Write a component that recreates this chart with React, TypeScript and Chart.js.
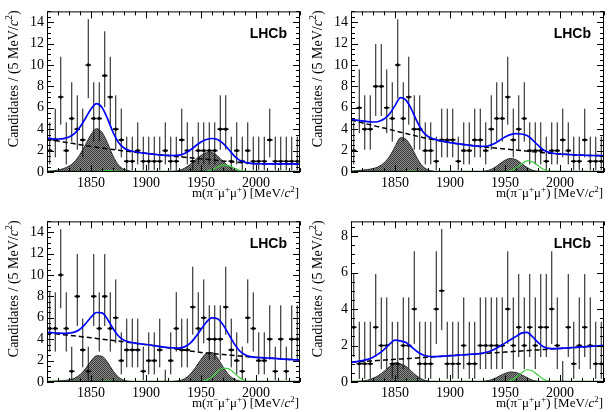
import React, { useEffect, useRef } from "react";
import { Chart, registerables } from "chart.js";

Chart.register(...registerables);

// ---------- axis / binning ----------
const X_MIN = 1810;
const X_MAX = 2040;
const BIN_WIDTH = 5;
const X_TICKS = [1850, 1900, 1950, 2000];
const Y_TICKS_TALL = [0, 2, 4, 6, 8, 10, 12, 14];
const Y_TICKS_SHORT = [0, 2, 4, 6, 8];
const Y_MAX_TALL = 15;
const Y_MAX_SHORT = 8.8;

const BIN_CENTERS = [
  1812.5, 1817.5, 1822.5, 1827.5, 1832.5, 1837.5, 1842.5, 1847.5, 1852.5, 1857.5,
  1862.5, 1867.5, 1872.5, 1877.5, 1882.5, 1887.5, 1892.5, 1897.5, 1902.5, 1907.5,
  1912.5, 1917.5, 1922.5, 1927.5, 1932.5, 1937.5, 1942.5, 1947.5, 1952.5, 1957.5,
  1962.5, 1967.5, 1972.5, 1977.5, 1982.5, 1987.5, 1992.5, 1997.5, 2002.5, 2007.5,
  2012.5, 2017.5, 2022.5, 2027.5, 2032.5, 2037.5,
];

// sample points of the fitted curves (MeV/c^2)
const FIT_MASS = [
  1810, 1815, 1820, 1825, 1830, 1835, 1840, 1845, 1850, 1855,
  1860, 1865, 1870, 1875, 1880, 1885, 1890, 1895, 1900, 1905,
  1910, 1915, 1920, 1925, 1930, 1935, 1940, 1945, 1950, 1955,
  1960, 1965, 1970, 1975, 1980, 1985, 1990, 1995, 2000, 2005,
  2010, 2015, 2020, 2025, 2030, 2035, 2040,
];

// zero-valued component drawn along the bottom
const FLAT_MASS = [1810, 2040];
const FLAT_COMPONENT = [0, 0];

// Poisson (Garwood) intervals indexed by count
const POISSON_LOW = [0, 0.173, 0.708, 1.367, 2.086, 2.84, 3.62, 4.419, 5.232, 6.057, 6.891, 7.738];
const POISSON_HIGH = [1.148, 3.3, 4.638, 5.918, 7.163, 8.382, 9.584, 10.77, 11.95, 13.14, 14.27, 15.41];

// ---------- panel 1 (top left) ----------
const P1_COUNTS = [2, 3, 7, 2, 5, 4, 3, 10, 5, 5, 9, 7, 4, 3, 1, 1, 2, 1, 1, 1, 1, 2, 1, 1, 3, 2, 1, 2, 2, 2, 2, 4, 4, 1, 2, 1, 2, 1, 1, 1, 3, 1, 1, 1, 1, 1];
const P1_TOTAL = [3.16, 3.1, 3.08, 3.12, 3.27, 3.58, 4.2, 5.02, 5.89, 6.38, 6.02, 4.99, 3.72, 2.75, 2.24, 2.01, 1.89, 1.8, 1.74, 1.68, 1.63, 1.58, 1.55, 1.54, 1.58, 1.73, 2.03, 2.43, 2.8, 3.04, 3.13, 3.03, 2.68, 2.13, 1.53, 1.11, 0.91, 0.81, 0.78, 0.77, 0.76, 0.76, 0.75, 0.75, 0.75, 0.75, 0.75];
const P1_BKG = [3.1, 3.0, 2.9, 2.8, 2.72, 2.63, 2.55, 2.47, 2.39, 2.31, 2.24, 2.17, 2.1, 2.03, 1.97, 1.91, 1.85, 1.79, 1.74, 1.68, 1.63, 1.58, 1.53, 1.48, 1.43, 1.38, 1.33, 1.28, 1.23, 1.18, 1.13, 1.08, 1.03, 0.98, 0.93, 0.89, 0.85, 0.81, 0.78, 0.77, 0.76, 0.76, 0.75, 0.75, 0.75, 0.75, 0.75];
const P1_MISID = [0.06, 0.1, 0.18, 0.32, 0.55, 0.95, 1.65, 2.55, 3.5, 4.05, 3.7, 2.7, 1.5, 0.65, 0.25, 0.1, 0.04, 0.01, 0, 0, 0, 0, 0.02, 0.06, 0.15, 0.35, 0.7, 1.15, 1.55, 1.8, 1.8, 1.5, 1.0, 0.55, 0.22, 0.07, 0.02, 0, 0, 0, 0, 0, 0, 0, 0, 0, 0];
const P1_GREEN = [0, 0, 0, 0, 0, 0, 0, 0, 0, 0.02, 0.08, 0.12, 0.12, 0.07, 0.02, 0, 0, 0, 0, 0, 0, 0, 0, 0, 0, 0, 0, 0, 0.02, 0.06, 0.2, 0.45, 0.65, 0.6, 0.38, 0.15, 0.04, 0, 0, 0, 0, 0, 0, 0, 0, 0, 0];

// ---------- panel 2 (top right) ----------
const P2_COUNTS = [2, 6, 4, 4, 8, 8, 6, 5, 10, 5, 7, 4, 4, 2, 2, 1, 3, 3, 3, 1, 2, 2, 3, 3, 2, 4, 5, 5, 7, 3, 4, 5, 2, 2, 2, 1, 2, 2, 3, 2, 1, 1, 3, 1, 1, 1];
const P2_TOTAL = [4.94, 4.84, 4.77, 4.7, 4.67, 4.72, 4.95, 5.42, 6.2, 6.94, 6.71, 5.85, 4.72, 3.81, 3.32, 3.09, 2.94, 2.83, 2.75, 2.67, 2.6, 2.53, 2.47, 2.43, 2.4, 2.45, 2.63, 2.95, 3.28, 3.49, 3.58, 3.55, 3.4, 3.01, 2.5, 2.06, 1.83, 1.73, 1.68, 1.65, 1.62, 1.59, 1.57, 1.55, 1.54, 1.53, 1.52];
const P2_BKG = [4.85, 4.72, 4.6, 4.47, 4.35, 4.22, 4.1, 3.97, 3.85, 3.72, 3.6, 3.47, 3.35, 3.23, 3.12, 3.02, 2.92, 2.83, 2.75, 2.67, 2.6, 2.53, 2.47, 2.41, 2.35, 2.3, 2.25, 2.2, 2.15, 2.1, 2.05, 2.0, 1.95, 1.9, 1.85, 1.8, 1.76, 1.72, 1.68, 1.65, 1.62, 1.59, 1.57, 1.55, 1.54, 1.53, 1.52];
const P2_MISID = [0.09, 0.12, 0.17, 0.23, 0.32, 0.5, 0.85, 1.45, 2.35, 3.2, 3.05, 2.3, 1.3, 0.55, 0.2, 0.07, 0.02, 0, 0, 0, 0, 0, 0, 0.02, 0.05, 0.15, 0.38, 0.75, 1.1, 1.27, 1.15, 0.8, 0.42, 0.16, 0.05, 0.01, 0, 0, 0, 0, 0, 0, 0, 0, 0, 0, 0];
const P2_GREEN = [0, 0, 0, 0, 0, 0, 0, 0, 0, 0.02, 0.06, 0.08, 0.07, 0.03, 0, 0, 0, 0, 0, 0, 0, 0, 0, 0, 0, 0, 0, 0, 0.03, 0.12, 0.38, 0.75, 1.03, 0.95, 0.6, 0.25, 0.07, 0.01, 0, 0, 0, 0, 0, 0, 0, 0, 0];

// ---------- panel 3 (bottom left) ----------
const P3_COUNTS = [5, 5, 10, 5, 1, 8, 3, 1, 8, 5, 8, 5, 6, 2, 3, 3, 3, 1, 2, 2, 3, 0, 2, 5, 3, 3, 7, 5, 6, 4, 4, 4, 7, 3, 2, 1, 6, 5, 2, 2, 4, 1, 4, 1, 4, 4];
const P3_TOTAL = [4.64, 4.6, 4.57, 4.55, 4.57, 4.66, 4.93, 5.44, 6.05, 6.49, 6.45, 5.87, 5.0, 4.3, 3.91, 3.74, 3.64, 3.56, 3.5, 3.43, 3.35, 3.28, 3.22, 3.18, 3.17, 3.28, 3.6, 4.2, 4.91, 5.6, 5.98, 5.9, 5.35, 4.5, 3.61, 2.92, 2.54, 2.37, 2.3, 2.27, 2.24, 2.21, 2.18, 2.14, 2.11, 2.08, 2.05];
const P3_BKG = [4.6, 4.54, 4.48, 4.42, 4.37, 4.31, 4.25, 4.19, 4.13, 4.07, 4.01, 3.94, 3.88, 3.82, 3.75, 3.69, 3.63, 3.56, 3.5, 3.43, 3.35, 3.28, 3.2, 3.13, 3.05, 2.98, 2.9, 2.83, 2.75, 2.7, 2.66, 2.61, 2.57, 2.52, 2.48, 2.43, 2.39, 2.34, 2.3, 2.27, 2.24, 2.21, 2.18, 2.14, 2.11, 2.08, 2.05];
const P3_MISID = [0.04, 0.06, 0.09, 0.13, 0.2, 0.35, 0.68, 1.25, 1.95, 2.45, 2.4, 1.85, 1.05, 0.45, 0.16, 0.05, 0.01, 0, 0, 0, 0, 0, 0.02, 0.05, 0.12, 0.3, 0.7, 1.35, 2.1, 2.68, 2.75, 2.25, 1.42, 0.7, 0.28, 0.09, 0.02, 0, 0, 0, 0, 0, 0, 0, 0, 0, 0];
const P3_GREEN = [0, 0, 0, 0, 0, 0, 0, 0, 0, 0.02, 0.06, 0.08, 0.07, 0.03, 0, 0, 0, 0, 0, 0, 0, 0, 0, 0, 0, 0, 0, 0.02, 0.06, 0.18, 0.48, 0.95, 1.3, 1.25, 0.85, 0.4, 0.13, 0.03, 0, 0, 0, 0, 0, 0, 0, 0, 0];

// ---------- panel 4 (bottom right) ----------
const P4_COUNTS = [3, 1, 1, 1, 3, 2, 2, 1, 1, 2, 2, 4, 1, 1, 1, 4, 5, 1, 1, 1, 2, 1, 1, 2, 2, 2, 2, 2, 4, 2, 3, 2, 3, 2, 3, 3, 4, 2, 0, 3, 1, 2, 3, 2, 1, 1];
const P4_TOTAL = [1.08, 1.12, 1.17, 1.24, 1.36, 1.54, 1.78, 2.07, 2.29, 2.25, 2.16, 1.92, 1.67, 1.49, 1.41, 1.39, 1.4, 1.42, 1.44, 1.46, 1.48, 1.5, 1.52, 1.54, 1.59, 1.66, 1.78, 1.95, 2.13, 2.32, 2.5, 2.68, 2.72, 2.48, 2.17, 1.93, 1.84, 1.83, 1.84, 1.86, 1.88, 1.9, 1.92, 1.94, 1.96, 1.98, 2.0];
const P4_BKG = [1.08, 1.1, 1.12, 1.14, 1.16, 1.18, 1.2, 1.22, 1.24, 1.26, 1.28, 1.3, 1.32, 1.34, 1.36, 1.38, 1.4, 1.42, 1.44, 1.46, 1.48, 1.5, 1.52, 1.54, 1.56, 1.58, 1.6, 1.62, 1.64, 1.66, 1.68, 1.7, 1.72, 1.74, 1.76, 1.78, 1.8, 1.82, 1.84, 1.86, 1.88, 1.9, 1.92, 1.94, 1.96, 1.98, 2.0];
const P4_MISID = [0, 0.02, 0.05, 0.1, 0.2, 0.36, 0.58, 0.85, 1.05, 0.98, 0.85, 0.58, 0.32, 0.14, 0.05, 0.01, 0, 0, 0, 0, 0, 0, 0, 0, 0.03, 0.08, 0.18, 0.33, 0.47, 0.55, 0.52, 0.4, 0.24, 0.1, 0.03, 0, 0, 0, 0, 0, 0, 0, 0, 0, 0, 0, 0];
const P4_GREEN = [0, 0, 0, 0, 0, 0, 0, 0, 0, 0.01, 0.03, 0.04, 0.03, 0.01, 0, 0, 0, 0, 0, 0, 0, 0, 0, 0, 0, 0, 0, 0, 0.02, 0.08, 0.25, 0.5, 0.67, 0.6, 0.38, 0.15, 0.04, 0.01, 0, 0, 0, 0, 0, 0, 0, 0, 0];

// ---------- texts ----------
const EXPERIMENT_LABEL = "LHCb";
const X_TITLE_PARTS = [
  { t: "m(π" }, { t: "−", sup: true }, { t: "μ" }, { t: "+", sup: true }, { t: "μ" }, { t: "+", sup: true },
  { t: ") [MeV/" }, { t: "c", it: true }, { t: "2", sup: true }, { t: "]" },
];
const Y_TITLE_PARTS = [
  { t: "Candidates / (5 MeV/" }, { t: "c", it: true }, { t: "2", sup: true }, { t: ")" },
];

type Panel = {
  counts: number[]; total: number[]; bkg: number[]; misid: number[]; green: number[];
  yMax: number; yTicks: number[];
};

const PANELS: Panel[] = [
  { counts: P1_COUNTS, total: P1_TOTAL, bkg: P1_BKG, misid: P1_MISID, green: P1_GREEN, yMax: Y_MAX_TALL, yTicks: Y_TICKS_TALL },
  { counts: P2_COUNTS, total: P2_TOTAL, bkg: P2_BKG, misid: P2_MISID, green: P2_GREEN, yMax: Y_MAX_TALL, yTicks: Y_TICKS_TALL },
  { counts: P3_COUNTS, total: P3_TOTAL, bkg: P3_BKG, misid: P3_MISID, green: P3_GREEN, yMax: Y_MAX_TALL, yTicks: Y_TICKS_TALL },
  { counts: P4_COUNTS, total: P4_TOTAL, bkg: P4_BKG, misid: P4_MISID, green: P4_GREEN, yMax: Y_MAX_SHORT, yTicks: Y_TICKS_SHORT },
];

const SERIF = '"Liberation Serif", "Times New Roman", serif';
const FONT_SIZE = 14;
const X_TITLE_SIZE = 13;
const W = 304;
const H = 202;
const GRAY_INDEX = 5;

function drawRich(ctx: CanvasRenderingContext2D, parts: any[], size: number) {
  const fontOf = (p: any) => `${p.it ? "italic " : ""}${p.sup ? Math.round(size * 0.72) : size}px ${SERIF}`;
  let total = 0;
  const widths = parts.map((p) => {
    ctx.font = fontOf(p);
    const w = ctx.measureText(p.t).width;
    total += w;
    return w;
  });
  let x = -total;
  ctx.textAlign = "left";
  ctx.textBaseline = "alphabetic";
  parts.forEach((p, i) => {
    ctx.font = fontOf(p);
    ctx.fillText(p.t, x, p.sup ? -size * 0.4 : 0);
    x += widths[i];
  });
}

function makePattern(): any {
  const c = document.createElement("canvas");
  c.width = 2;
  c.height = 2;
  const g = c.getContext("2d")!;
  g.fillStyle = "#8c8c8c";
  g.fillRect(0, 0, 2, 2);
  g.fillStyle = "#3c3c3c";
  g.fillRect(0, 0, 1, 1);
  g.fillRect(1, 1, 1, 1);
  return g.createPattern(c, "repeat");
}

function PanelChart({ panel, left, top }: { panel: Panel; left: number; top: number }) {
  const ref = useRef<HTMLCanvasElement | null>(null);

  useEffect(() => {
    const canvas = ref.current;
    if (!canvas) return;
    const pts = (ys: number[]) => FIT_MASS.map((m, i) => ({ x: m, y: ys[i] }));

    const rootStyle = {
      id: "rootStyle",
      afterDatasetDraw(chart: any, args: any) {
        if (args.index !== GRAY_INDEX) return;
        const ctx = chart.ctx as CanvasRenderingContext2D;
        const xs = chart.scales.x;
        const ys = chart.scales.y;
        const a = chart.chartArea;
        ctx.save();
        ctx.beginPath();
        ctx.rect(a.left, a.top, a.right - a.left, a.bottom - a.top);
        ctx.clip();
        ctx.strokeStyle = "#111";
        panel.counts.forEach((n, i) => {
          const m = BIN_CENTERS[i];
          const px = xs.getPixelForValue(m);
          const pl = xs.getPixelForValue(m - BIN_WIDTH / 2);
          const pr = xs.getPixelForValue(m + BIN_WIDTH / 2);
          const py = ys.getPixelForValue(n);
          ctx.lineWidth = 1;
          ctx.beginPath();
          ctx.moveTo(px, ys.getPixelForValue(POISSON_LOW[n]));
          ctx.lineTo(px, ys.getPixelForValue(POISSON_HIGH[n]));
          ctx.stroke();
          ctx.lineWidth = 1.6;
          ctx.beginPath();
          ctx.moveTo(pl, py);
          ctx.lineTo(pr, py);
          ctx.stroke();
        });
        ctx.restore();
      },
      afterDraw(chart: any) {
        const ctx = chart.ctx as CanvasRenderingContext2D;
        const a = chart.chartArea;
        const xs = chart.scales.x;
        const ys = chart.scales.y;
        ctx.save();
        ctx.strokeStyle = "#000";
        ctx.lineWidth = 1;
        ctx.strokeRect(a.left + 0.5, a.top + 0.5, a.right - a.left - 1, a.bottom - a.top - 1);
        ctx.beginPath();
        for (let m = X_MIN; m <= X_MAX; m += 10) {
          const px = Math.round(xs.getPixelForValue(m)) + 0.5;
          const len = m % 50 === 0 ? 7 : 4;
          ctx.moveTo(px, a.bottom);
          ctx.lineTo(px, a.bottom - len);
          ctx.moveTo(px, a.top);
          ctx.lineTo(px, a.top + len);
        }
        for (let k = 0; k * 0.5 <= panel.yMax; k++) {
          const v = k * 0.5;
          const py = Math.round(ys.getPixelForValue(v)) + 0.5;
          const len = k % 4 === 0 ? 7 : 4;
          ctx.moveTo(a.left, py);
          ctx.lineTo(a.left + len, py);
          ctx.moveTo(a.right, py);
          ctx.lineTo(a.right - len, py);
        }
        ctx.stroke();

        ctx.fillStyle = "#000";
        // x title
        ctx.save();
        ctx.translate(a.right - 1, a.bottom + 25);
        drawRich(ctx, X_TITLE_PARTS, X_TITLE_SIZE);
        ctx.restore();
        // y title
        ctx.save();
        ctx.translate(18, a.top - 1);
        ctx.rotate(-Math.PI / 2);
        drawRich(ctx, Y_TITLE_PARTS, FONT_SIZE);
        ctx.restore();
        // experiment label
        ctx.font = `bold 14px "Liberation Sans", Arial, sans-serif`;
        ctx.textAlign = "right";
        ctx.textBaseline = "alphabetic";
        ctx.fillText(EXPERIMENT_LABEL, a.right - 13, a.top + 27);
        ctx.restore();
      },
    };

    const chart = new Chart(canvas, {
      type: "line",
      data: {
        datasets: [
          { data: pts(panel.total), borderColor: "#0000ff", borderWidth: 1.7, pointRadius: 0, fill: false, cubicInterpolationMode: "monotone" },
          { data: pts(panel.green), borderColor: "#3ccc3c", borderWidth: 1.2, pointRadius: 0, fill: false, cubicInterpolationMode: "monotone" },
          { data: FLAT_MASS.map((m, i) => ({ x: m, y: FLAT_COMPONENT[i] })), borderColor: "#0b6a0b", borderWidth: 2.5, pointRadius: 0, fill: false },
          { data: pts(panel.bkg), borderColor: "#000", borderWidth: 1.5, borderDash: [5, 3], pointRadius: 0, fill: false, cubicInterpolationMode: "monotone" },
          { data: BIN_CENTERS.map((m, i) => ({ x: m, y: panel.counts[i] })), showLine: false, pointRadius: 1.6, pointBorderWidth: 0, pointBackgroundColor: "#000", borderColor: "#000" },
          { data: pts(panel.misid), borderColor: "#2e2e2e", borderWidth: 1, pointRadius: 0, fill: "origin", backgroundColor: makePattern(), cubicInterpolationMode: "monotone" },
        ] as any,
      },
      options: {
        animation: false,
        responsive: false,
        events: [],
        layout: { padding: { top: 8, right: 1, left: 0, bottom: 0 } },
        plugins: { legend: { display: false }, tooltip: { enabled: false } },
        scales: {
          x: {
            type: "linear",
            min: X_MIN,
            max: X_MAX,
            grid: { display: false, drawTicks: false },
            border: { display: false },
            ticks: {
              font: { family: SERIF, size: FONT_SIZE }, color: "#000", padding: 3, maxRotation: 0, autoSkip: false,
              callback: (v: any) => String(v),
            },
            afterBuildTicks: (s: any) => { s.ticks = X_TICKS.map((v) => ({ value: v })); },
            afterFit: (s: any) => { s.height = 30; },
          },
          y: {
            type: "linear",
            min: 0,
            max: panel.yMax,
            grid: { display: false, drawTicks: false },
            border: { display: false },
            ticks: {
              font: { family: SERIF, size: FONT_SIZE }, color: "#000", padding: 3, autoSkip: false,
              callback: (v: any) => String(v),
            },
            afterBuildTicks: (s: any) => { s.ticks = panel.yTicks.map((v) => ({ value: v })); },
            afterFit: (s: any) => { s.width = 47; },
          },
        },
      } as any,
      plugins: [rootStyle as any],
    });
    return () => chart.destroy();
  }, [panel]);

  return (
    <canvas
      ref={ref}
      width={W}
      height={H}
      style={{ position: "absolute", left, top, width: W, height: H }}
    />
  );
}

export default function App() {
  return (
    <div style={{ position: "fixed", left: 0, top: 0, width: 608, height: 412, background: "#fff" }}>
      {PANELS.map((p, i) => (
        <PanelChart key={i} panel={p} left={(i % 2) * 304} top={Math.floor(i / 2) * 210} />
      ))}
    </div>
  );
}
